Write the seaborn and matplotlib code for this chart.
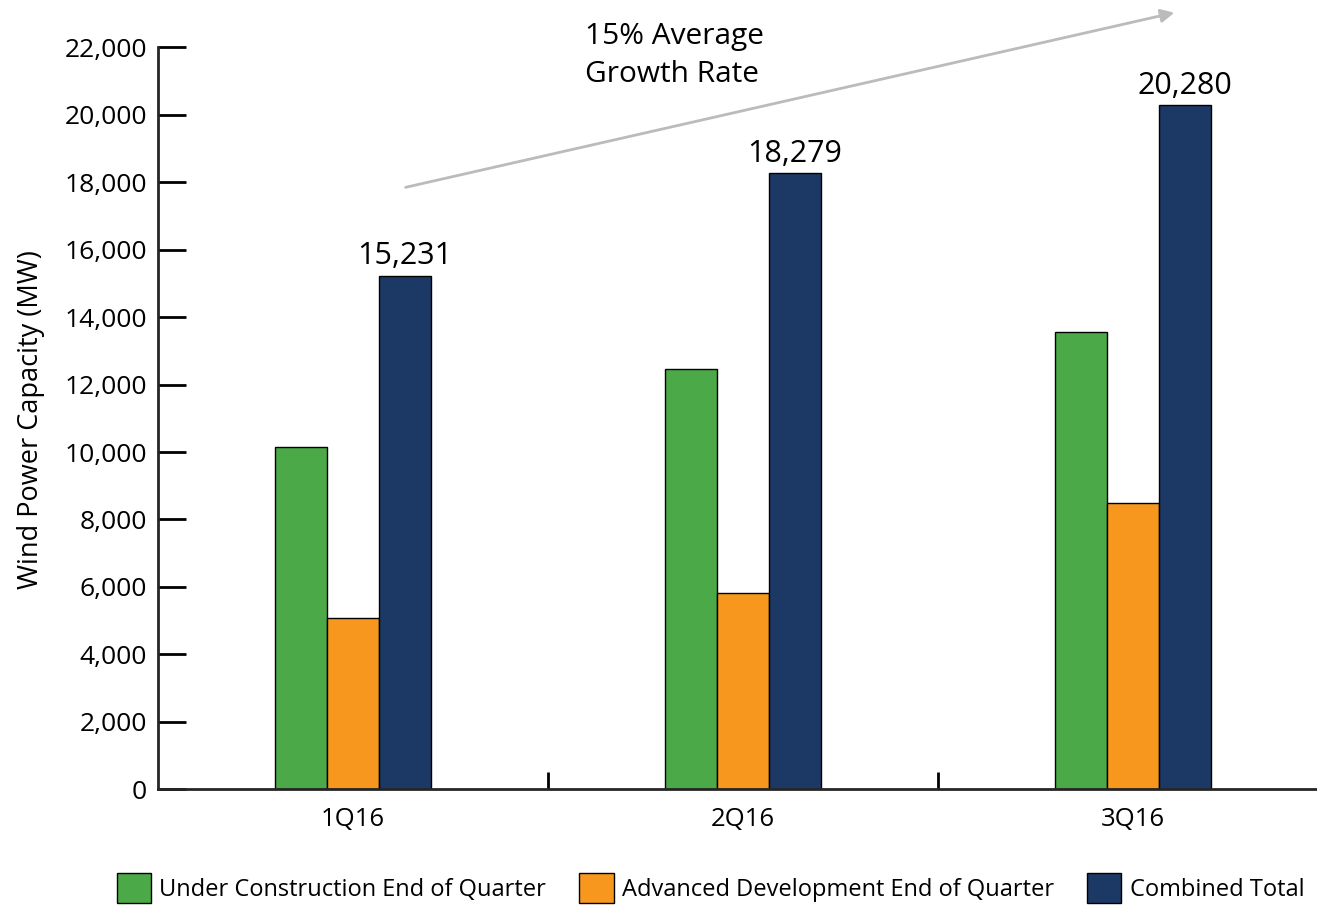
import numpy as np
import pandas as pd
import matplotlib
matplotlib.use("Agg")
import matplotlib.pyplot as plt
import seaborn as sns
from matplotlib.patches import Patch

quarters = ["1Q16", "2Q16", "3Q16"]
series = ["Under Construction End of Quarter",
          "Advanced Development End of Quarter",
          "Combined Total"]
under_construction = [10150, 12470, 13560]
advanced_dev = [5070, 5810, 8490]
combined_total = [15231, 18279, 20280]
colors = ["#4BAA47", "#F7971E", "#1C3864"]

data = pd.DataFrame({
    "quarter": quarters * 3,
    "series": [series[0]] * 3 + [series[1]] * 3 + [series[2]] * 3,
    "mw": under_construction + advanced_dev + combined_total,
})

sns.set_style("white")
plt.rcParams["font.family"] = ["Open Sans", "DejaVu Sans"]
plt.rcParams["text.color"] = "black"
plt.rcParams["xtick.color"] = "black"
plt.rcParams["ytick.color"] = "black"
plt.rcParams["axes.labelcolor"] = "black"

fig = plt.figure(figsize=(13.17, 9.06), dpi=100)
ax = fig.add_axes([158 / 1317, 116.7 / 906, 1170 / 1317, 742 / 906])

sns.barplot(data=data, x="quarter", y="mw", hue="series", hue_order=series,
            order=quarters, palette=colors, width=0.4, gap=0,
            edgecolor="black", linewidth=1, saturation=1, ax=ax, legend=False)

ax.set_xlim(-0.5, 2.5)
ax.set_ylim(0, 22000)
ax.set_yticks(range(0, 22001, 2000))
ax.set_yticklabels([f"{v:,}" for v in range(0, 22001, 2000)])
ax.tick_params(axis="y", direction="in", length=20, width=2, pad=8,
               labelsize=19, left=True)
ax.tick_params(axis="x", which="major", length=0, pad=13, labelsize=18.5)
ax.set_xticks([0.5, 1.5], minor=True)
ax.tick_params(axis="x", which="minor", direction="in", length=12, width=2,
               bottom=True)
sns.despine(ax=ax)
ax.spines["left"].set_linewidth(2)
ax.spines["bottom"].set_linewidth(2)
ax.set_xlabel("")
ax.set_ylabel("Wind Power Capacity (MW)", fontsize=19.5)
ax.yaxis.set_label_coords(-0.097, 0.498)

# labels on combined total bars
ax.bar_label(ax.containers[2], labels=[f"{v:,}" for v in combined_total],
             fontsize=22, padding=3)

# growth arrow
ax.annotate("", xy=(2.113, 23045), xytext=(0.128, 17830),
            arrowprops=dict(arrowstyle="-|>", color="#BBBBBB", lw=2,
                            mutation_scale=20),
            annotation_clip=False)
ax.text(0.595, 22760, "15% Average\nGrowth Rate", fontsize=21.5,
        ha="left", va="top", linespacing=1.42, clip_on=False)

handles = [Patch(facecolor=c, edgecolor="black", linewidth=1) for c in colors]
fig.legend(handles, series, loc="upper left",
           bbox_to_anchor=(117 / 1317, 1 - 873 / 906), ncol=3, frameon=False,
           fontsize=17, handlelength=1.45, handleheight=1.6, handletextpad=0.35,
           columnspacing=1.4, borderpad=0, borderaxespad=0)

fig.savefig("out.png", dpi=100)
